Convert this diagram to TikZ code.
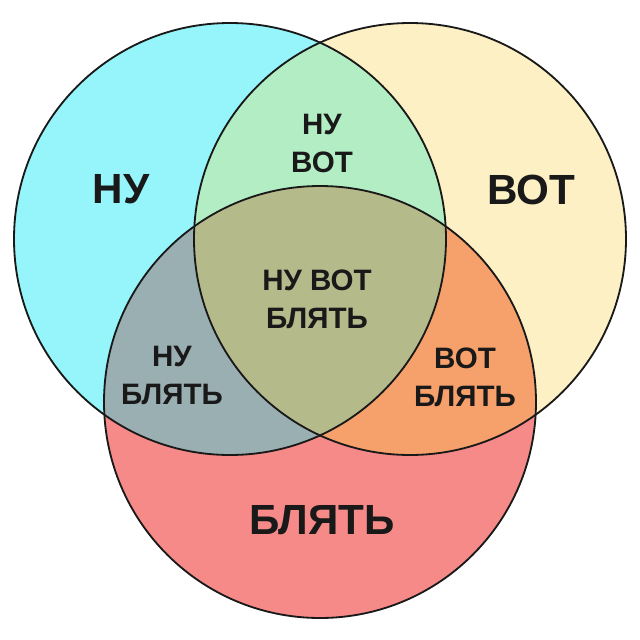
\documentclass[tikz,border=0pt]{standalone}
\usepackage{fontspec}
\setmainfont{Liberation Sans}
\definecolor{cyanish}{RGB}{149,245,250}
\definecolor{cream}{RGB}{253,240,196}
\definecolor{salmon}{RGB}{245,138,136}
\definecolor{mint}{RGB}{179,237,195}
\definecolor{slate}{RGB}{154,175,177}
\definecolor{peach}{RGB}{246,160,108}
\definecolor{olivebg}{RGB}{180,186,138}
\usetikzlibrary{positioning}
\tikzset{
  ring/.style={draw=black!90,line width=1.3pt},
  big/.style={font=\fontsize{30}{36}\selectfont\bfseries,text=black!90,align=center,inner sep=0pt},
  small/.style={font=\fontsize{21}{27}\selectfont\bfseries,text=black!90,align=center,inner sep=0pt},
}
\newcommand\nuset{(230,239) circle[radius=216]}
\newcommand\votset{(410,239) circle[radius=216]}
\newcommand\blset{(320,402) circle[radius=216]}

\begin{document}
\begin{tikzpicture}[x=0.025cm,y=-0.025cm]
    \useasboundingbox (0,0) rectangle (640,640);
    \fill[white] (0,0) rectangle (640,640);
    \fill[cyanish] \nuset;
    \fill[cream] \votset;
    \fill[salmon] \blset;
    \begin{scope} \clip \nuset; \fill[mint] \votset; \end{scope}
    \begin{scope} \clip \nuset; \fill[slate] \blset; \end{scope}
    \begin{scope} \clip \votset; \fill[peach] \blset; \end{scope}
    \begin{scope} \clip \nuset; \clip \votset; \fill[olivebg] \blset; \end{scope}
    \draw[ring] \nuset;
    \draw[ring] \votset;
    \draw[ring] \blset;
    \node[big] (nu) at (121,189) {НУ};
    \node[big] (vot) at (531,190) {ВОТ};
    \node[big] (blyat) at (322,520) {БЛЯТЬ};
    \node[small] (nuvot) at (322,143) {НУ\\ВОТ};
    \node[small] (all) at (317,299) {НУ ВОТ\\БЛЯТЬ};
    \node[small] (nublyat) at (172,375) {НУ\\БЛЯТЬ};
    \node[small] (votblyat) at (465,377) {ВОТ\\БЛЯТЬ};
  \end{tikzpicture}
\end{document}
